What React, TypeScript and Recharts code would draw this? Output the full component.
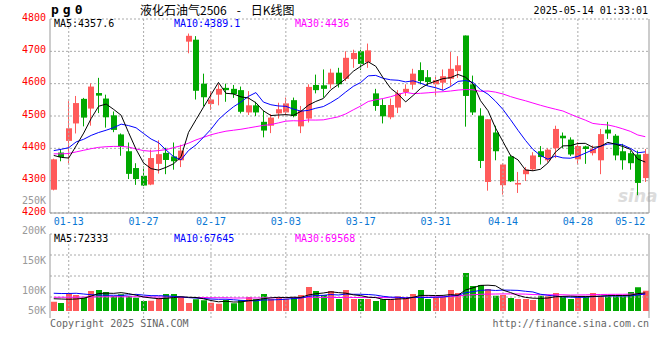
import { Bar, CartesianGrid, ComposedChart, Line, ReferenceLine, XAxis, YAxis } from "recharts";

const dates = [
  "01-09", "01-10", "01-13", "01-14", "01-15", "01-16", "01-17", "01-20", "01-21", "01-22", "01-23", "01-24", "01-27",
  "02-05", "02-06", "02-07", "02-10", "02-11", "02-12", "02-13", "02-14", "02-17", "02-18", "02-19", "02-20", "02-21",
  "02-24", "02-25", "02-26", "02-27", "02-28",
  "03-03", "03-04", "03-05", "03-06", "03-07", "03-10", "03-11", "03-12", "03-13", "03-14", "03-17", "03-18", "03-19",
  "03-20", "03-21", "03-24", "03-25", "03-26", "03-27", "03-28", "03-31",
  "04-01", "04-02", "04-03", "04-07", "04-08", "04-09", "04-10", "04-11", "04-14", "04-15", "04-16", "04-17", "04-18",
  "04-21", "04-22", "04-23", "04-24", "04-25", "04-28", "04-29", "04-30",
  "05-06", "05-07", "05-08", "05-09", "05-12", "05-13", "05-14",
];

const opens = [
  4272, 4387, 4423, 4477, 4553, 4523, 4571, 4554, 4502, 4443,
  4391, 4339, 4315, 4288, 4352, 4386, 4375, 4363, 4730, 4736,
  4600, 4537, 4566, 4587, 4584, 4580, 4511, 4533, 4482, 4470,
  4508, 4511, 4549, 4468, 4492, 4596, 4595, 4598, 4634, 4615,
  4676, 4700, 4666, 4570, 4534, 4496, 4526, 4574, 4597, 4642,
  4620, 4598, 4603, 4615, 4639, 4749, 4598, 4501, 4296, 4449,
  4286, 4375, 4288, 4320, 4335, 4391, 4363, 4400, 4439, 4427,
  4366, 4406, 4385, 4363, 4458, 4439, 4391, 4385, 4381, 4308,
];
const highs = [
  4368, 4398, 4546, 4562, 4556, 4601, 4618, 4566, 4514, 4446,
  4418, 4354, 4344, 4396, 4425, 4402, 4418, 4411, 4755, 4747,
  4631, 4577, 4598, 4600, 4596, 4591, 4577, 4544, 4516, 4506,
  4541, 4557, 4557, 4531, 4598, 4628, 4644, 4646, 4649, 4700,
  4705, 4705, 4724, 4584, 4552, 4554, 4580, 4598, 4646, 4666,
  4642, 4621, 4644, 4698, 4685, 4749, 4625, 4524, 4490, 4470,
  4354, 4380, 4327, 4342, 4388, 4407, 4400, 4470, 4449, 4434,
  4419, 4408, 4409, 4460, 4482, 4444, 4414, 4393, 4393, 4398,
];
const lows = [
  4270, 4360, 4354, 4446, 4468, 4470, 4509, 4464, 4450, 4377,
  4305, 4287, 4283, 4286, 4322, 4320, 4334, 4342, 4694, 4551,
  4530, 4519, 4533, 4544, 4556, 4508, 4503, 4500, 4434, 4447,
  4492, 4503, 4496, 4447, 4480, 4570, 4557, 4585, 4588, 4608,
  4649, 4642, 4649, 4516, 4477, 4490, 4509, 4562, 4582, 4598,
  4593, 4562, 4580, 4593, 4618, 4467, 4503, 4339, 4269, 4363,
  4257, 4296, 4262, 4299, 4330, 4350, 4357, 4370, 4401, 4376,
  4350, 4352, 4378, 4320, 4429, 4363, 4334, 4334, 4255, 4296,
];
const closes = [
  4366, 4373, 4462, 4540, 4495, 4591, 4563, 4496, 4457, 4405,
  4321, 4305, 4285, 4370, 4382, 4364, 4360, 4393, 4748, 4578,
  4558, 4551, 4584, 4580, 4568, 4513, 4533, 4511, 4455, 4495,
  4521, 4539, 4500, 4516, 4590, 4580, 4584, 4634, 4598, 4680,
  4695, 4661, 4703, 4531, 4499, 4534, 4570, 4584, 4631, 4608,
  4605, 4611, 4623, 4646, 4657, 4562, 4511, 4361, 4490, 4391,
  4350, 4298, 4293, 4334, 4378, 4373, 4396, 4460, 4431, 4381,
  4407, 4398, 4398, 4444, 4446, 4378, 4363, 4354, 4293, 4383,
];

const ma5 = [
  4378, 4372, 4370, 4408, 4447.2, 4492.2, 4530.2, 4537, 4520.4, 4502.4,
  4448.4, 4396.8, 4354.6, 4337.2, 4332.6, 4341.2, 4352.2, 4373.8, 4449.4, 4488.6,
  4527.4, 4565.6, 4603.8, 4570.2, 4568.2, 4559.2, 4555.6, 4541, 4516, 4501.4,
  4503, 4504.2, 4502, 4514.2, 4533.2, 4545, 4554, 4580.8, 4597.2, 4615.2,
  4638.2, 4653.6, 4667.4, 4654, 4617.8, 4585.6, 4567.4, 4543.6, 4563.6, 4585.4,
  4599.6, 4607.8, 4615.6, 4618.6, 4628.4, 4619.8, 4599.8, 4547.4, 4516.2, 4463,
  4420.6, 4378, 4364.4, 4333.2, 4330.6, 4335.2, 4354.8, 4388.2, 4407.6, 4408.2,
  4415, 4415.4, 4403, 4405.6, 4418.6, 4412.8, 4405.8, 4397, 4366.8, 4357.6,
];
const ma10 = [
  4393, 4397, 4402, 4420, 4428, 4440, 4449, 4456, 4464, 4474.8,
  4470.3, 4463.5, 4445.8, 4428.8, 4417.5, 4394.8, 4374.5, 4364.2, 4393.3, 4410.6,
  4434.3, 4458.9, 4488.8, 4509.8, 4528.4, 4543.3, 4560.6, 4572.4, 4543.1, 4534.8,
  4531.1, 4529.9, 4521.5, 4515.1, 4517.3, 4524, 4529.1, 4541.4, 4555.7, 4574.2,
  4591.6, 4603.8, 4624.1, 4625.6, 4616.5, 4611.9, 4610.5, 4605.5, 4608.8, 4601.6,
  4592.6, 4587.6, 4579.6, 4591.1, 4606.9, 4609.7, 4603.8, 4581.5, 4567.4, 4545.7,
  4520.2, 4488.9, 4455.9, 4424.7, 4396.8, 4377.9, 4366.4, 4376.3, 4370.4, 4369.4,
  4375.1, 4385.1, 4395.6, 4406.6, 4413.4, 4413.9, 4410.6, 4400, 4386.2, 4389.1,
];
const ma30 = [
  4383, 4383, 4384, 4389, 4394, 4399, 4403, 4405, 4406, 4406,
  4404, 4398, 4393, 4391, 4393, 4396, 4402, 4408, 4416, 4426,
  4434, 4442, 4448, 4453, 4456, 4459, 4463, 4467, 4471, 4473.4,
  4478.6, 4484.1, 4485.4, 4484.6, 4487.7, 4487.4, 4488.1, 4492.7, 4497.4, 4506.5,
  4519, 4530.9, 4544.8, 4550.2, 4554.1, 4559.7, 4566.7, 4573.1, 4569.2, 4570.2,
  4571.8, 4573.8, 4575.1, 4577.3, 4580.2, 4581.9, 4581.1, 4576.1, 4577.3, 4573.8,
  4568.1, 4560.1, 4553.2, 4547.1, 4540.1, 4533.2, 4526.9, 4521.1, 4515.5, 4505.6,
  4496, 4487.2, 4477, 4474.1, 4472.4, 4467.2, 4460.3, 4452.6, 4441.3, 4436,
];

// volume, in thousands of lots
const volumes = [
  37, 32, 69, 64, 53, 80, 84, 76, 60, 67,
  60, 53, 40, 41, 52, 68, 68, 55, 32, 47,
  43, 33, 29, 44, 31, 44, 56, 47, 68, 48,
  55, 49, 56, 64, 96, 80, 64, 80, 48, 84,
  48, 48, 48, 40, 47, 47, 59, 53, 68, 84,
  48, 56, 56, 84, 72, 152, 100, 104, 88, 61,
  64, 52, 48, 48, 44, 61, 59, 72, 56, 48,
  56, 59, 72, 61, 59, 59, 59, 76, 95, 81,
];
const volMa5 = [
  49, 48, 47, 48, 51, 59.6, 70, 71.4, 70.6, 73.4,
  69.4, 63.2, 56, 52.2, 49.2, 50.8, 53.8, 56.8, 55, 54,
  49, 42, 36.8, 39.2, 36, 36.2, 40.8, 44.4, 49.2, 52.6,
  54.8, 53.4, 55.2, 54.4, 64, 69, 72, 76.8, 73.6, 71.2,
  64.8, 61.6, 55.2, 53.6, 46.2, 46, 48.2, 49.2, 54.8, 62.2,
  62.4, 61.8, 62.4, 65.6, 63.2, 84, 92.8, 102.4, 103.2, 101,
  83.4, 73.8, 62.6, 54.6, 51.2, 50.6, 52, 56.8, 58.4, 59.2,
  58.2, 58.2, 58.2, 59.2, 61.4, 62, 62, 62.8, 69.6, 72.3,
];
const volMa10 = [
  71, 70, 70, 71, 68, 65, 64, 63, 63, 62.2,
  64.5, 66.6, 63.7, 61.4, 61.3, 60.1, 58.5, 56.4, 53.6, 51.6,
  49.9, 47.9, 46.8, 47.1, 45, 42.6, 41.4, 40.6, 44.2, 44.3,
  45.5, 47.1, 49.8, 51.8, 58.3, 61.9, 62.7, 66, 64, 67.6,
  66.9, 66.8, 66, 63.6, 58.7, 55.4, 54.9, 52.2, 54.2, 54.2,
  54.2, 55, 55.8, 60.2, 62.7, 73.2, 77.3, 82.4, 84.4, 82.1,
  83.7, 83.3, 82.5, 78.9, 76.1, 67, 62.9, 59.7, 56.5, 55.2,
  54.4, 55.1, 57.5, 58.8, 60.3, 60.1, 60.1, 60.5, 64.4, 67.6,
];
const volMa30 = [
  55, 55, 55, 55, 56, 56, 57, 57, 57, 57,
  57, 57, 57, 56, 56, 56, 55, 55, 54, 54,
  54, 53, 53, 53, 52, 52, 52, 52, 52.5, 52.7,
  53.3, 53.9, 53.4, 53.4, 54.9, 54.9, 54.2, 54.3, 53.9, 54.5,
  54.1, 53.9, 54.2, 54.2, 54, 53.3, 53, 52.9, 54.1, 55.4,
  55.5, 56.3, 57.2, 58.5, 59.9, 63.5, 65, 66.9, 67.5, 68,
  68.3, 68.4, 68.1, 67.6, 65.8, 65.2, 65, 64.8, 65, 63.8,
  64.1, 64.5, 65.3, 66, 66.4, 66.8, 66.8, 67.5, 68.4, 69.6,
];

const dateTicks = ["01-13", "01-27", "02-17", "03-03", "03-17", "03-31", "04-14", "04-28", "05-12"];
const gridDates = dateTicks.slice(0, -1);
const priceTicks = [4200, 4300, 4400, 4500, 4600, 4700, 4800];
const volLabelTicks = [50, 100, 150, 200, 250];
const volGridLevels = [56, 140, 224, 308];

const RED = "#ff5a5a";
const GREEN = "#00a800";
const FRAME = "#999";
const GRID = "#aaa";
const MONO = "'DejaVu Sans Mono', monospace";

const rows = dates.map((date, i) => ({
  date,
  open: opens[i],
  high: highs[i],
  low: lows[i],
  close: closes[i],
  up: closes[i] >= opens[i],
  vol: volumes[i],
  ma5: ma5[i],
  ma10: ma10[i],
  ma30: ma30[i],
  vma5: volMa5[i],
  vma10: volMa10[i],
  vma30: volMa30[i],
}));

function Candle(props: any) {
  const { x, y, width, height, payload } = props;
  if (x == null || y == null || !payload) return null;
  const top = Math.min(y, y + height);
  const span = Math.abs(height);
  const range = payload.high - payload.low || 1;
  const toY = (v: number) => top + ((payload.high - v) / range) * span;
  const color = payload.up ? RED : GREEN;
  const bx = Math.round(x);
  const w = Math.round(width);
  const bodyTop = toY(Math.max(payload.open, payload.close));
  const bodyBottom = toY(Math.min(payload.open, payload.close));
  const cx = bx + Math.floor(w / 2) - 0.5;
  return (
    <g>
      <line x1={cx} x2={cx} y1={top} y2={top + span} stroke={color} strokeWidth={1} />
      <rect x={bx} y={bodyTop} width={w} height={Math.max(1, bodyBottom - bodyTop)} fill={color} />
    </g>
  );
}

function VolBar(props: any) {
  const { x, y, width, height, payload } = props;
  if (x == null || y == null || !payload) return null;
  return <rect x={Math.round(x)} y={y} width={Math.round(width)} height={Math.max(0, height)} fill={payload.up ? RED : GREEN} />;
}

function PriceTick({ x, y, payload }: any) {
  return (
    <text x={x} y={y - 2} dy="0.355em" textAnchor="end" fill="#f00" fontSize={10} fontFamily={MONO}>
      {payload.value}
    </text>
  );
}

// the 50K label sits inside the panel bottom, as in the source chart
function VolTick({ x, y, payload }: any) {
  return (
    <text x={x} y={Math.min(y, 120)} dy="0.355em" textAnchor="end" fill="#999" fontSize={10} fontFamily={MONO}>
      {payload.value}K
    </text>
  );
}

const label = (left: number, top: number, color: string, text: string) => (
  <div style={{ position: "absolute", left, top, color, fontSize: 10, lineHeight: "12px", fontFamily: MONO, whiteSpace: "pre" }}>{text}</div>
);

export default function App() {
  return (
    <div style={{ position: "absolute", left: 0, top: 0, width: 660, height: 360, background: "#fff", overflow: "hidden", fontFamily: MONO }}>
      <div style={{ position: "absolute", left: 618, top: 186, fontSize: 17, lineHeight: "20px", fontWeight: "bold", fontStyle: "italic", fontFamily: "'DejaVu Sans', sans-serif", color: "#dcdcdc" }}>sina</div>

      <div style={{ position: "absolute", left: 0, top: 0 }}>
        <ComposedChart width={660} height={232} data={rows} margin={{ top: 19, right: 10, bottom: 0, left: 0 }}>
          <CartesianGrid vertical={false} stroke={GRID} strokeDasharray="2 2" />
          {gridDates.map((d) => (
            <ReferenceLine key={d} x={d} stroke={GRID} strokeDasharray="2 2" />
          ))}
          <XAxis
            dataKey="date"
            ticks={dateTicks}
            interval={0}
            height={19}
            tickSize={0}
            tickMargin={5}
            tickLine={false}
            axisLine={{ stroke: FRAME }}
            tick={{ fill: "#0a78d4", fontSize: 10, fontFamily: MONO }}
          />
          <YAxis
            domain={[4200, 4800]}
            ticks={priceTicks}
            interval={0}
            width={50}
            tickSize={0}
            tickMargin={4}
            tickLine={false}
            axisLine={{ stroke: FRAME }}
            tick={<PriceTick />}
            allowDataOverflow
          />
          <YAxis yAxisId="r" orientation="right" width={1} domain={[0, 1]} tick={false} tickLine={false} axisLine={{ stroke: FRAME }} allowDataOverflow />
          <Bar dataKey={(d: any) => [d.low, d.high]} shape={Candle} barSize={6} isAnimationActive={false} />
          <Line dataKey="ma30" stroke="#ff00ff" strokeWidth={1} dot={false} activeDot={false} isAnimationActive={false} />
          <Line dataKey="ma10" stroke="#0000ff" strokeWidth={1} dot={false} activeDot={false} isAnimationActive={false} />
          <Line dataKey="ma5" stroke="#000" strokeWidth={1} dot={false} activeDot={false} isAnimationActive={false} />
        </ComposedChart>
      </div>

      <div style={{ position: "absolute", left: 0, top: 190 }}>
        <ComposedChart width={660} height={150} data={rows} margin={{ top: 44, right: 10, bottom: 22, left: 0 }}>
          {gridDates.map((d) => (
            <ReferenceLine key={d} x={d} yAxisId="vol" stroke={GRID} strokeDasharray="2 2" />
          ))}
          {volGridLevels.map((v) => (
            <ReferenceLine key={v} y={v} yAxisId="vol" stroke={GRID} strokeDasharray="2 2" />
          ))}
          <XAxis dataKey="date" height={0} tick={false} tickLine={false} axisLine={{ stroke: FRAME }} />
          <YAxis
            yAxisId="lbl"
            width={50}
            domain={[52.97, 194.05]}
            allowDataOverflow
            ticks={volLabelTicks}
            interval={0}
            tickSize={0}
            tickMargin={4}
            tickLine={false}
            axisLine={{ stroke: FRAME }}
            tick={<VolTick />}
          />
          <YAxis yAxisId="vol" hide domain={[-28, 308]} allowDataOverflow />
          <YAxis yAxisId="r" orientation="right" width={1} domain={[0, 1]} tick={false} tickLine={false} axisLine={{ stroke: FRAME }} allowDataOverflow />
          <Bar yAxisId="vol" dataKey="vol" shape={VolBar} barSize={6} isAnimationActive={false} />
          <Line yAxisId="vol" dataKey="vma30" stroke="#ff00ff" strokeWidth={1} dot={false} activeDot={false} isAnimationActive={false} />
          <Line yAxisId="vol" dataKey="vma10" stroke="#0000ff" strokeWidth={1} dot={false} activeDot={false} isAnimationActive={false} />
          <Line yAxisId="vol" dataKey="vma5" stroke="#000" strokeWidth={1} dot={false} activeDot={false} isAnimationActive={false} />
        </ComposedChart>
      </div>

      <div style={{ position: "absolute", left: 51, top: 2, fontSize: 13, lineHeight: "16px", fontWeight: "bold", letterSpacing: 4, fontFamily: MONO, color: "#000" }}>pg0</div>
      <div style={{ position: "absolute", left: 140, top: 2, fontSize: 12, lineHeight: "16px", fontFamily: "'Noto Sans CJK SC', sans-serif", color: "#000", whiteSpace: "pre" }}>
        液化石油气2506<span style={{ margin: "0 10px" }}>-</span>日K线图
      </div>
      <div style={{ position: "absolute", right: 12, top: 5, fontSize: 10, lineHeight: "12px", fontFamily: MONO, color: "#000" }}>2025-05-14 01:33:01</div>

      {label(54, 18, "#000", "MA5:4357.6")}
      {label(174, 18, "#0000ff", "MA10:4389.1")}
      {label(295, 18, "#ff00ff", "MA30:4436")}

      {label(54, 233, "#000", "MA5:72333")}
      {label(174, 233, "#0000ff", "MA10:67645")}
      {label(295, 233, "#ff00ff", "MA30:69568")}

      {label(50, 318, "#666", "Copyright 2025 SINA.COM")}
      <div style={{ position: "absolute", right: 11, top: 318, color: "#666", fontSize: 10, lineHeight: "12px", fontFamily: MONO }}>http://finance.sina.com.cn</div>
    </div>
  );
}
